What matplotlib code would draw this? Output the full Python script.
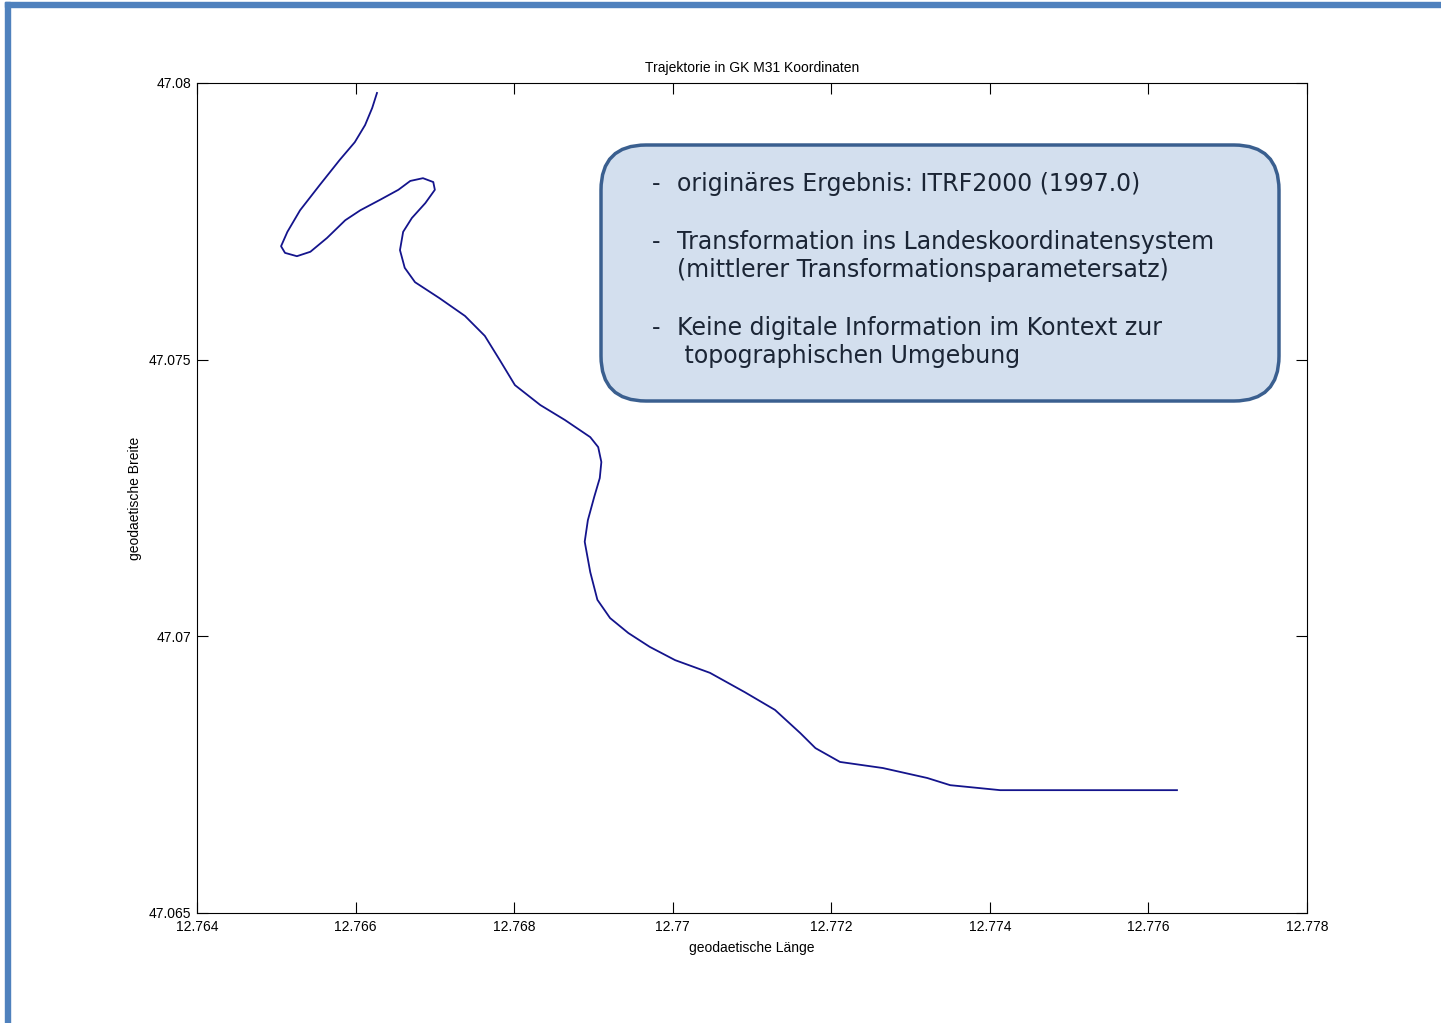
import matplotlib
matplotlib.use("Agg")
import matplotlib.pyplot as plt
from matplotlib.patches import FancyBboxPatch, Rectangle
from matplotlib.transforms import IdentityTransform

# trajectory (lon, lat)
lon = [12.76627, 12.76621, 12.76612, 12.76599, 12.76580, 12.76555, 12.76530,
       12.76514, 12.76506, 12.76511, 12.76526, 12.76543, 12.76564, 12.76587,
       12.76606, 12.76631, 12.76654, 12.76669, 12.76685, 12.76698, 12.76700,
       12.76688, 12.76671, 12.76660, 12.76656, 12.76662, 12.76675, 12.76706,
       12.76738, 12.76763, 12.76782, 12.76801, 12.76833, 12.76864, 12.76896,
       12.76906, 12.76910, 12.76908, 12.76901, 12.76893, 12.76889, 12.76896,
       12.76905, 12.76921, 12.76944, 12.76971, 12.77003, 12.77047, 12.77091,
       12.77129, 12.77161, 12.77180, 12.77211, 12.77265, 12.77321, 12.77350,
       12.77413, 12.77636]
lat = [47.07982, 47.07955, 47.07924, 47.07893, 47.07861, 47.07816, 47.07770,
       47.07731, 47.07705, 47.07693, 47.07687, 47.07695, 47.07720, 47.07752,
       47.07770, 47.07789, 47.07807, 47.07823, 47.07828, 47.07821, 47.07807,
       47.07783, 47.07756, 47.07731, 47.07698, 47.07666, 47.07640, 47.07611,
       47.07579, 47.07543, 47.07499, 47.07454, 47.07418, 47.07391, 47.07360,
       47.07342, 47.07315, 47.07286, 47.07252, 47.07210, 47.07171, 47.07116,
       47.07066, 47.07033, 47.07006, 47.06981, 47.06957, 47.06934, 47.06899,
       47.06867, 47.06825, 47.06798, 47.06773, 47.06762, 47.06744, 47.06731,
       47.06722, 47.06722]

xticks = [12.764, 12.766, 12.768, 12.77, 12.772, 12.774, 12.776, 12.778]
xticklabels = ["12.764", "12.766", "12.768", "12.77", "12.772", "12.774", "12.776", "12.778"]
yticks = [47.065, 47.07, 47.075, 47.08]
yticklabels = ["47.065", "47.07", "47.075", "47.08"]

box_lines = [
    ("-", "originäres Ergebnis: ITRF2000 (1997.0)", 184),
    ("-", "Transformation ins Landeskoordinatensystem", 242),
    ("", "(mittlerer Transformationsparametersatz)", 270),
    ("-", "Keine digitale Information im Kontext zur", 328),
    ("", " topographischen Umgebung", 356),
]

W, H = 1441, 1023
plt.rcParams['font.family'] = ['Liberation Sans', 'DejaVu Sans']
fig = plt.figure(figsize=(W / 100, H / 100), dpi=100)
ax = fig.add_axes([197 / W, 1 - 913 / H, (1307 - 197) / W, (913 - 83) / H])

ax.plot(lon, lat, color='#14148c', lw=1.3)
ax.set_xlim(12.764, 12.778)
ax.set_ylim(47.065, 47.08)
ax.set_xticks(xticks)
ax.set_xticklabels(xticklabels)
ax.set_yticks(yticks)
ax.set_yticklabels(yticklabels)
ax.tick_params(direction='in', length=8, width=0.8, top=True, right=True,
               labelsize=10, colors='black')
ax.tick_params(axis='x', pad=5)
ax.tick_params(axis='y', pad=4)
for s in ax.spines.values():
    s.set_linewidth(0.8)
ax.set_title("Trajektorie in GK M31 Koordinaten", fontsize=10, pad=8)
ax.set_xlabel("geodaetische Länge", fontsize=10, labelpad=5)
ax.set_ylabel("geodaetische Breite", fontsize=10, labelpad=5)

# page frame
fig.patches.append(Rectangle((5 / W, 1 - 7 / H), 1 - 5 / W, 5 / H,
                             transform=fig.transFigure, color='#4f81bd', zorder=5))
fig.patches.append(Rectangle((5 / W, 0), 5 / W, 1 - 2 / H,
                             transform=fig.transFigure, color='#4f81bd', zorder=5))

# rounded text box (pixel coordinates)
box = FancyBboxPatch((601, H - 401), 678, 256,
                     boxstyle="round,pad=0,rounding_size=45",
                     transform=IdentityTransform(),
                     facecolor='#d3dfee', edgecolor='#3a5f8f', lw=2.5, zorder=6)
fig.patches.append(box)
for dash, txt, y in box_lines:
    if dash:
        fig.text(652 / W, 1 - y / H, dash, fontsize=17, color='#1b2535',
                 family='DejaVu Sans', va='center', zorder=7)
    fig.text(677 / W, 1 - y / H, txt, fontsize=17, color='#1b2535',
             family='DejaVu Sans', va='center', zorder=7)

fig.savefig("out.png", dpi=100)
